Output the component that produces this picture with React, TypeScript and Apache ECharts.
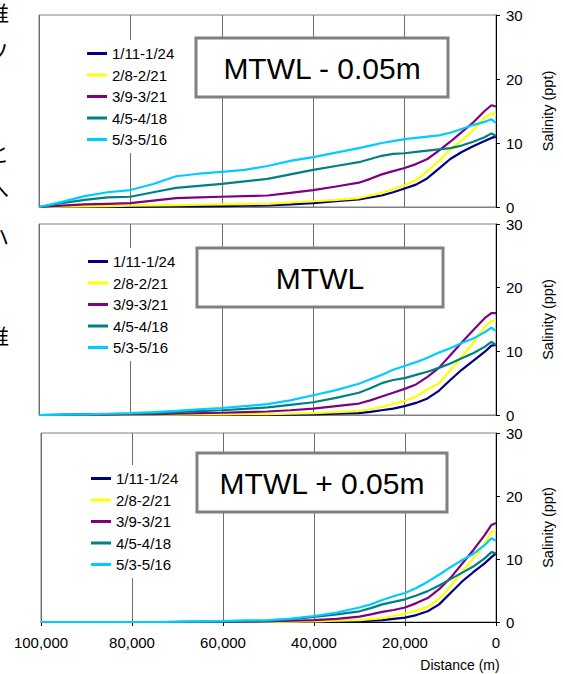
import React, { useEffect, useRef } from "react";
import * as echarts from "echarts";

// Distance from mouth (m)
const DIST = [100000, 95000, 90000, 85000, 80000, 75000, 70000, 65000, 60000, 55000, 50000, 45000, 40000, 35000, 30000, 27500, 25000, 22500, 20000, 17500, 15000, 12500, 10000, 7500, 5000, 2500, 1000, 0];
const X_TICKS = [0, 20000, 40000, 60000, 80000, 100000];
const Y_TICKS = [0, 10, 20, 30];

const SERIES_NAMES = ["1/11-1/24", "2/8-2/21", "3/9-3/21", "4/5-4/18", "5/3-5/16"];
const SERIES_COLORS = ["#000080", "#FFFF00", "#800080", "#008080", "#00CCFF"];
const PANEL_TITLES = ["MTWL - 0.05m", "MTWL", "MTWL + 0.05m"];

// Panel 1: MTWL - 0.05m
const P1_NAVY = [0, 0, 0, 0, 0.02, 0.05, 0.08, 0.1, 0.15, 0.2, 0.25, 0.4, 0.6, 0.9, 1.2, 1.5, 1.8, 2.3, 2.9, 3.5, 4.5, 6.0, 7.5, 8.6, 9.5, 10.3, 10.8, 11.0];
const P1_YELLOW = [0, 0.05, 0.1, 0.15, 0.2, 0.25, 0.3, 0.35, 0.4, 0.45, 0.5, 0.7, 0.9, 1.1, 1.4, 1.8, 2.2, 2.8, 3.4, 4.2, 5.6, 7.2, 9.0, 10.4, 12.0, 14.0, 14.6, 14.4];
const P1_PURPLE = [0, 0.2, 0.4, 0.5, 0.6, 1.0, 1.4, 1.5, 1.6, 1.7, 1.8, 2.2, 2.65, 3.2, 3.8, 4.4, 5.1, 5.6, 6.1, 6.7, 7.5, 8.8, 10.2, 11.7, 13.2, 15.0, 15.9, 15.7];
const P1_TEAL = [0, 0.6, 1.1, 1.5, 1.6, 2.3, 3.0, 3.3, 3.6, 4.0, 4.4, 5.1, 5.8, 6.4, 7.0, 7.5, 8.0, 8.3, 8.4, 8.6, 8.8, 9.0, 9.2, 9.6, 10.2, 10.9, 11.5, 11.1];
const P1_CYAN = [0, 0.8, 1.7, 2.3, 2.65, 3.6, 4.8, 5.2, 5.5, 5.8, 6.4, 7.2, 7.8, 8.5, 9.2, 9.6, 10.0, 10.3, 10.6, 10.8, 11.0, 11.2, 11.6, 12.2, 12.8, 13.3, 13.7, 13.1];

// Panel 2: MTWL
const P2_NAVY = [0, 0, 0, 0, 0, 0, 0, 0, 0, 0.02, 0.03, 0.05, 0.1, 0.2, 0.3, 0.5, 0.75, 1.0, 1.4, 1.9, 2.6, 3.8, 5.5, 7.1, 8.5, 9.9, 10.9, 11.0];
const P2_YELLOW = [0, 0, 0, 0, 0.02, 0.04, 0.06, 0.08, 0.1, 0.12, 0.15, 0.2, 0.3, 0.45, 0.65, 0.9, 1.25, 1.7, 2.2, 2.9, 4.0, 5.0, 7.0, 9.2, 11.3, 13.8, 14.8, 14.8];
const P2_PURPLE = [0, 0.02, 0.05, 0.07, 0.1, 0.15, 0.2, 0.3, 0.35, 0.45, 0.55, 0.75, 1.0, 1.4, 1.8, 2.3, 2.9, 3.5, 4.1, 4.8, 6.0, 7.4, 9.4, 11.4, 13.3, 15.2, 16.0, 16.0];
const P2_TEAL = [0, 0.05, 0.1, 0.15, 0.2, 0.3, 0.45, 0.6, 0.75, 0.95, 1.2, 1.6, 2.0, 2.7, 3.5, 4.2, 5.0, 5.5, 5.8, 6.3, 6.8, 7.4, 8.1, 8.9, 9.7, 10.7, 11.5, 11.0];
const P2_CYAN = [0, 0.05, 0.1, 0.2, 0.3, 0.45, 0.65, 0.9, 1.1, 1.4, 1.7, 2.3, 3.1, 3.9, 4.9, 5.6, 6.3, 7.1, 7.7, 8.3, 9.0, 9.8, 10.5, 11.3, 12.0, 13.0, 13.7, 13.2];

// Panel 3: MTWL + 0.05m
const P3_NAVY = [0, 0, 0, 0, 0, 0, 0, 0, 0, 0, 0, 0, 0, 0.05, 0.1, 0.2, 0.3, 0.5, 0.7, 1.1, 1.7, 2.8, 4.6, 6.4, 7.9, 9.3, 10.3, 10.9];
const P3_YELLOW = [0, 0, 0, 0, 0, 0, 0, 0, 0, 0, 0, 0.05, 0.1, 0.2, 0.3, 0.45, 0.6, 0.95, 1.3, 1.8, 2.4, 3.7, 5.6, 8.0, 10.1, 12.4, 14.3, 14.6];
const P3_PURPLE = [0, 0, 0, 0, 0, 0, 0, 0, 0.02, 0.05, 0.1, 0.2, 0.3, 0.5, 0.85, 1.2, 1.6, 1.9, 2.3, 3.0, 3.8, 5.2, 7.0, 9.2, 11.4, 13.8, 15.4, 15.7];
const P3_TEAL = [0, 0, 0, 0, 0, 0, 0.02, 0.05, 0.08, 0.12, 0.2, 0.45, 0.8, 1.2, 1.7, 2.2, 2.8, 3.2, 3.6, 4.2, 4.9, 5.8, 6.8, 7.8, 8.8, 10.1, 11.1, 10.9];
const P3_CYAN = [0, 0, 0, 0, 0, 0, 0.05, 0.1, 0.15, 0.25, 0.3, 0.55, 0.95, 1.5, 2.3, 2.8, 3.5, 4.1, 4.6, 5.4, 6.4, 7.5, 8.7, 9.8, 10.8, 12.2, 13.3, 12.9];

const PANELS = [
  [P1_NAVY, P1_YELLOW, P1_PURPLE, P1_TEAL, P1_CYAN],
  [P2_NAVY, P2_YELLOW, P2_PURPLE, P2_TEAL, P2_CYAN],
  [P3_NAVY, P3_YELLOW, P3_PURPLE, P3_TEAL, P3_CYAN],
];

// Clipped text fragments at the page's left edge (as in the reference)
const EDGE_TEXT = ["推", "ソ", "n", "と", "へ", "ハ", "推"];
const EDGE_Y = [12, 50, 105, 152, 188, 235, 335];

const FONT = "'Liberation Sans', Arial, sans-serif";

const GRIDS = [
  { left: 39, right: 61, top: 15, height: 192 },
  { left: 39, right: 61, top: 224, height: 191 },
  { left: 41, right: 57, top: 433, height: 189 },
];
const LEGEND_POS = [
  { left: 83, top: 40 },
  { left: 84, top: 248 },
  { left: 87, top: 465 },
];
const TITLE_BOX = [
  { x: 196, y: 38, w: 252, h: 59 },
  { x: 197, y: 248, w: 246, h: 59 },
  { x: 197, y: 453, w: 250, h: 59 },
];

export default function App() {
  const ref = useRef<HTMLDivElement>(null);
  useEffect(() => {
    if (!ref.current) return;
    const chart = echarts.init(ref.current, undefined, { renderer: "svg" });

    const fmt = (v: number) => v.toLocaleString("en-US");

    const xAxis = GRIDS.map((_, i) => ({
      type: "value",
      gridIndex: i,
      min: X_TICKS[0],
      max: X_TICKS[X_TICKS.length - 1],
      interval: 20000,
      inverse: true,
      axisLine: { show: true, lineStyle: { color: i === 2 ? "#000" : "#808080", width: 1 } },
      axisTick: { show: i === 2, length: 4, lineStyle: { color: "#000" } },
      axisLabel: {
        show: i === 2,
        fontSize: 15,
        color: "#000",
        margin: 13,
        fontFamily: FONT,
        formatter: (v: number) => (X_TICKS.includes(v) ? fmt(v) : ""),
      },
      splitLine: { show: true, lineStyle: { color: "#6e6e6e", width: 1 } },
    }));

    const yAxis = GRIDS.map((_, i) => ({
      type: "value",
      gridIndex: i,
      position: "right",
      min: Y_TICKS[0],
      max: Y_TICKS[Y_TICKS.length - 1],
      interval: 10,
      axisLine: { show: true, lineStyle: { color: "#000", width: 1 } },
      axisTick: { show: true, length: 4, lineStyle: { color: "#000" } },
      axisLabel: { fontSize: 15, color: "#000", margin: 10, fontFamily: FONT },
      splitLine: { show: false },
      name: "Salinity (ppt)",
      nameLocation: "middle",
      nameRotate: 90,
      nameGap: 44,
      nameTextStyle: { fontSize: 14.5, color: "#000", fontFamily: FONT },
    }));

    const series: any[] = [];
    PANELS.forEach((panel, pi) => {
      panel.forEach((vals, si) => {
        series.push({
          type: "line",
          name: SERIES_NAMES[si],
          xAxisIndex: pi,
          yAxisIndex: pi,
          data: DIST.map((d, k) => [d, vals[k]]),
          showSymbol: false,
          symbol: "none",
          lineStyle: { color: SERIES_COLORS[si], width: 2.2 },
          itemStyle: { color: SERIES_COLORS[si] },
          z: 2 + si,
        });
      });
    });

    const legend = LEGEND_POS.map((p) => ({
      data: SERIES_NAMES,
      orient: "vertical",
      left: p.left,
      top: p.top,
      backgroundColor: "#fff",
      padding: [6, 4, 6, 4],
      itemWidth: 20,
      itemHeight: 3,
      itemGap: 6.5,
      icon: "rect",
      selectedMode: false,
      textStyle: { fontSize: 15, color: "#000", fontFamily: FONT, lineHeight: 15 },
    }));

    const graphic: any[] = [];
    TITLE_BOX.forEach((b, i) => {
      graphic.push({
        type: "rect",
        z: 100,
        shape: { x: b.x, y: b.y, width: b.w, height: b.h },
        style: { fill: "#fff", stroke: "#808080", lineWidth: 3 },
      });
      graphic.push({
        type: "text",
        z: 101,
        x: b.x + b.w / 2,
        y: b.y + b.h / 2 + 1,
        style: {
          text: PANEL_TITLES[i],
          fontSize: 30,
          fontFamily: FONT,
          fill: "#000",
          textAlign: "center",
          textVerticalAlign: "middle",
        },
      });
    });
    graphic.push({
      type: "text",
      z: 100,
      x: 460,
      y: 665,
      style: {
        text: "Distance (m)",
        fontSize: 14,
        fontFamily: FONT,
        fill: "#000",
        textAlign: "center",
        textVerticalAlign: "middle",
      },
    });
    EDGE_TEXT.forEach((t, i) => {
      graphic.push({
        type: "text",
        z: 100,
        x: -12,
        y: EDGE_Y[i],
        style: {
          text: t,
          fontSize: 21,
          fontFamily: "'Noto Sans CJK JP'",
          fill: "#000",
          textAlign: "left",
          textVerticalAlign: "middle",
        },
      });
    });

    chart.setOption({
      animation: false,
      backgroundColor: "#fff",
      textStyle: { fontFamily: FONT },
      grid: GRIDS.map((g) => ({ ...g, show: true, borderColor: "#808080", borderWidth: 1, backgroundColor: "transparent" })),
      xAxis,
      yAxis,
      legend,
      series,
      graphic,
    });
    return () => chart.dispose();
  }, []);

  return (
    <div
      ref={ref}
      style={{ position: "fixed", left: 0, top: 0, width: 563, height: 674, background: "#fff" }}
    />
  );
}
